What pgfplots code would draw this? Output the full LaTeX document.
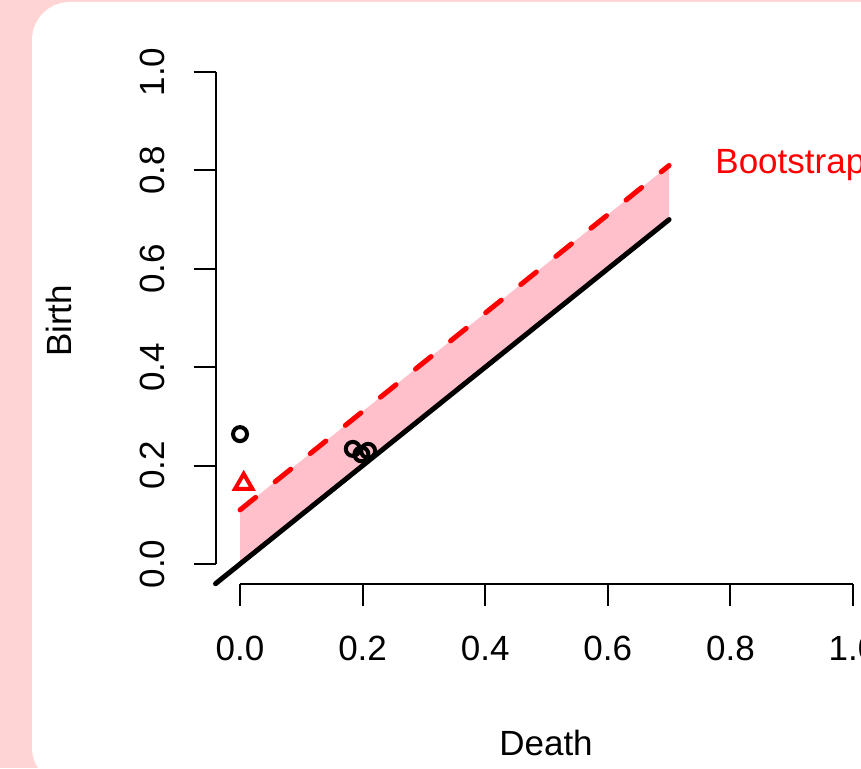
\documentclass[border=0pt]{standalone}
\usepackage{pgfplots}
\pgfplotsset{compat=1.18}
\usepackage{fontspec}
\setmainfont{Liberation Sans}
\definecolor{bgpink}{RGB}{255,212,212}
\definecolor{bandpink}{RGB}{255,192,203}
\newcommand\lab{\fontsize{17.5}{20}\selectfont}
\begin{document}
\begin{tikzpicture}[x=0.5pt,y=0.5pt]
\useasboundingbox (0,0) rectangle (861,768);
\clip (0,0) rectangle (861,768);
\fill[bgpink] (0,0) rectangle (861,768);
\fill[white, rounded corners=19pt] (32,-17.5) rectangle (950,766);
\begin{axis}[
  at={(107.75pt,92.15pt)}, anchor=south west, scale only axis,
  width=331pt, height=265.7pt,
  xmin=-0.04, xmax=1.04, ymin=-0.04, ymax=1.04,
  axis x line*=bottom, axis y line*=left,
  x axis line style={draw=none}, y axis line style={draw=none},
  clip=false,
  tick align=outside, major tick length=11pt,
  tick style={line width=1pt, black},
  xtick={0,0.2,0.4,0.6,0.8,1}, ytick={0,0.2,0.4,0.6,0.8,1},
  xticklabels={0.0,0.2,0.4,0.6,0.8,1.0},
  yticklabels={0.0,0.2,0.4,0.6,0.8,1.0},
  xticklabel style={font=\lab, anchor=north, inner sep=0pt, yshift=-15.2pt},
  yticklabel style={font=\lab, xshift=-14pt, rotate=90, anchor=south, inner sep=0pt},
]
% band
\addplot[draw=none, fill=bandpink] coordinates {(0,0) (0.7,0.7) (0.7,0.81) (0,0.11)} -- cycle;
% diagonal
\addplot[black, line width=2.5pt, line cap=round] coordinates {(-0.04,-0.04) (0.7,0.7)};
% band upper edge
\addplot[red, line width=2.5pt, line cap=round, dash pattern=on 10pt off 12.5pt] coordinates {(0,0.11) (0.7,0.81)};
% axis lines
\draw[line width=1pt] (axis cs:0,-0.04) -- (axis cs:1,-0.04);
\draw[line width=1pt] (axis cs:-0.04,0) -- (axis cs:-0.04,1);
% points
\addplot[only marks, mark=o, mark size=3.5pt, black, mark options={line width=2pt}] coordinates {(0,0.264) (0.184,0.234) (0.198,0.223) (0.209,0.230)};
\addplot[only marks, mark=triangle, mark size=5pt, red, mark options={line width=2pt}] coordinates {(0.006,0.163)};
\end{axis}
\node[red, font=\lab, anchor=base west, inner sep=0pt] at (715,594.7) {Bootstrap Band};
\node[font=\lab, anchor=base, inner sep=0pt] at (546,13) {Death};
\node[font=\lab, rotate=90, anchor=base, inner sep=0pt] at (71.7,447.2) {Birth};
\end{tikzpicture}
\end{document}
